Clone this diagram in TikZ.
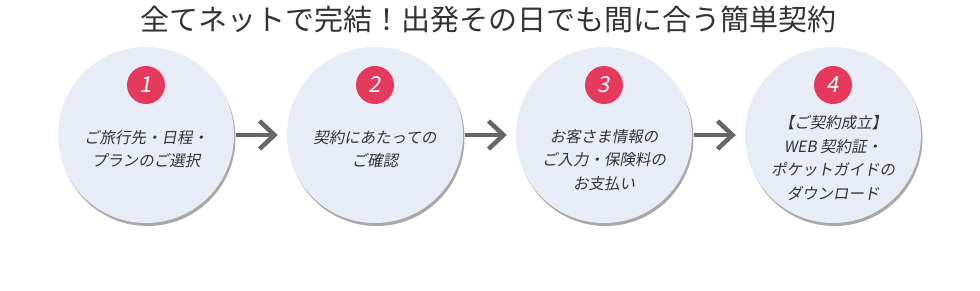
\documentclass[tikz,border=0pt]{standalone}
\usepackage{fontspec}
\setmainfont{Noto Sans CJK JP}
\newfontfamily\jpslant[FakeSlant=0.18]{Noto Sans CJK JP}
\usetikzlibrary{arrows.meta, positioning, shadows}
\definecolor{stagefill}{RGB}{232,236,246}
\definecolor{stageshade}{RGB}{168,168,168}
\definecolor{badgered}{RGB}{228,58,94}
\definecolor{textgray}{RGB}{51,51,51}
\definecolor{arrowgray}{RGB}{102,102,102}

\begin{document}
\begin{tikzpicture}[
    x=1pt, y=-1pt,
    stagecircle/.style={circle, fill=stagefill, minimum size=176pt,
                inner sep=0pt,
                drop shadow={shadow xshift=1.5pt, shadow yshift=-3pt,
                             fill=stageshade, opacity=1}},
    badge/.style={circle, fill=badgered, minimum size=38pt, inner sep=0pt,
                text=white, font=\jpslant\fontsize{22}{22}\selectfont},
    stagetext/.style={align=center, text=textgray, inner sep=0pt,
                font=\jpslant\fontsize{15.5}{23.5}\selectfont},
    flow/.style={draw=arrowgray, line width=4.5pt,
                -{Straight Barb[length=15pt, width=28pt]}}
  ]
  \useasboundingbox (0,0) rectangle (980,290);

  \node[text=textgray, font=\fontsize{29}{34}\selectfont] (title) at (488,19)
    {全てネットで完結！出発その日でも間に合う簡単契約};

  \node[stagecircle] (stage1) at (146,135) {};
  \node[stagecircle] (stage2) at (375,135) {};
  \node[stagecircle] (stage3) at (604,135) {};
  \node[stagecircle] (stage4) at (833,135) {};

  \node[badge] (badge1) at (146,85) {1};
  \node[badge] (badge2) at (375,85) {2};
  \node[badge] (badge3) at (604,85) {3};
  \node[badge] (badge4) at (833,85) {4};

  \node[stagetext] (text1) at (146,149) {ご旅行先・日程・\\プランのご選択};
  \node[stagetext] (text2) at (375,149) {契約にあたっての\\ご確認};
  \node[stagetext] (text3) at (604,160) {お客さま情報の\\ご入力・保険料の\\お支払い};
  \node[stagetext] (text4) at (833,158)
    {【ご契約成立】\\WEB 契約証・\\ポケットガイドの\\ダウンロード};

  \draw[flow, shorten <=2pt, shorten >=9pt] (stage1) -- (stage2);
  \draw[flow, shorten <=2pt, shorten >=9pt] (stage2) -- (stage3);
  \draw[flow, shorten <=2pt, shorten >=9pt] (stage3) -- (stage4);
\end{tikzpicture}
\end{document}
